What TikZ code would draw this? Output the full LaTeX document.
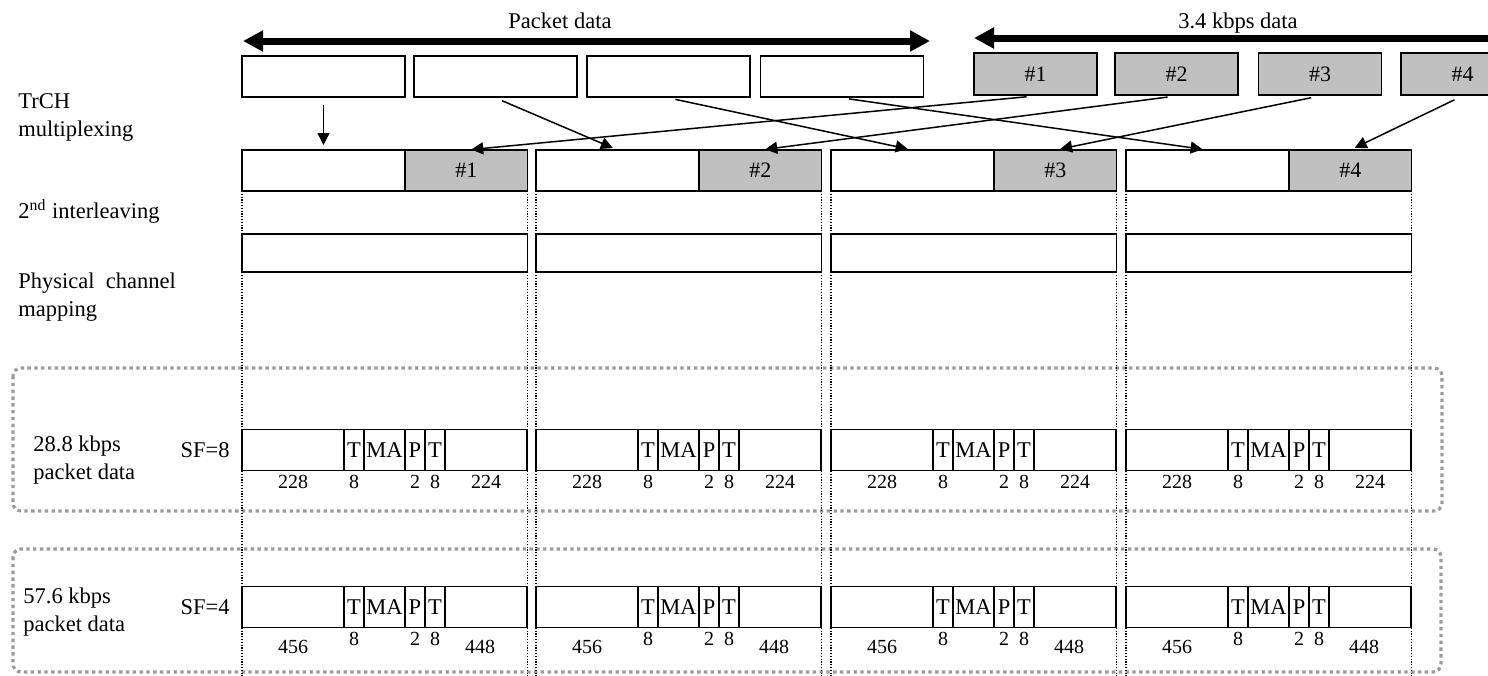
\documentclass[tikz,border=0pt]{standalone}
\usepackage{fontspec}
\setmainfont{Liberation Serif}
\usetikzlibrary{arrows.meta,positioning}
\definecolor{trShade}{RGB}{192,192,192}
\definecolor{frameGray}{RGB}{155,155,155}
\newcommand{\labsize}{\fontsize{11.25pt}{14pt}\selectfont}
\newcommand{\numsize}{\fontsize{10pt}{12pt}\selectfont}
\newcommand{\tagsize}{\fontsize{11pt}{13pt}\selectfont}
\tikzset{muxpanel/.style={
  x=0.5pt, y=-0.5pt,
  font=\labsize,
  blk/.style={draw, line width=0.9pt, inner sep=0pt, minimum width=81.5pt, minimum height=20.5pt},
  trblk/.style={blk, fill=trShade, font=\tagsize, minimum width=61.5pt, minimum height=21pt},
  seg/.style={draw, line width=0.75pt, inner sep=0pt, outer sep=0pt, minimum height=20.5pt},
  segfill/.style={seg, fill=trShade, font=\tagsize},
  num/.style={font=\numsize, inner sep=2pt},
  rowlab/.style={anchor=west, align=left, inner sep=0pt},
  bigtip/.tip={Triangle[length=10pt,width=10pt]},
  span/.style={line width=3.5pt},
  flow/.style={-{Triangle[length=6pt,width=6pt]}, line width=0.75pt, shorten >=2.5pt},
  guide/.style={line width=0.6pt, dash pattern=on 0.6pt off 0.8pt},
  frame/.style={draw=frameGray, line width=1.6pt, dash pattern=on 1.7pt off 1.7pt, rounded corners=4pt},
}}

\begin{document}
\begin{tikzpicture}[muxpanel]
\useasboundingbox (0,0) rectangle (1488,675);
\clip (0,0) rectangle (1488,675);

% dotted frames round the two packet data rates
\draw[frame] (13,368) rectangle (1442,511);
\draw[frame] (13,549) rectangle (1441,672);

% row labels
\node[rowlab] (lmux) at (18,117) {TrCH\\multiplexing};
\node[rowlab, anchor=base west] (lint) at (18,218) {2\textsuperscript{nd} interleaving};
\node[rowlab] (lphy) at (18,297) {Physical\ \ channel\\mapping};
\node[rowlab] (l288) at (33,460) {28.8 kbps\\packet data};
\node[rowlab] (l576) at (23,612) {57.6 kbps\\packet data};

% top: spans of the two transport channels
\coordinate (pktL) at (243,41);
\coordinate (pktR) at (930,41);
\draw[span, bigtip-bigtip] (pktL) -- (pktR);
\node[anchor=base] (pktlab) at (560,28) {Packet data};
\coordinate (lowL) at (974,38);
\coordinate (lowR) at (1500,38);
\draw[span, bigtip-] (lowL) -- (lowR);
\node[anchor=base] (lowlab) at (1238,28) {3.4 kbps data};

\foreach \i/\x in {1/323.5,2/495.5,3/668.5,4/842}
  \node[blk] (p\i) at (\x,76.5) {};
\foreach \i/\x in {1/1035.5,2/1176.5,3/1320,4/1462.5}
  \node[trblk] (t\i) at (\x,74) {\#\i};

% multiplexed frames, 2nd interleaving, guides
\foreach \i/\x in {1/242,2/536,3/831,4/1126}{
  \node[seg, minimum width=81.5pt, anchor=west] (mw\i) at (\x,170.5) {};
  \node[segfill, minimum width=61.25pt, right=0pt of mw\i] (mg\i) {\#\i};
  \node[seg, minimum width=142.75pt, minimum height=19pt, anchor=west] (il\i) at (\x,253) {};
  \draw[guide] (mw\i.south west) -- ++(0,490);
  \draw[guide] (mg\i.south east) -- ++(0,490);
  \draw[flow, shorten <=3.5pt] (p\i.south) -- (mw\i.north);
  \draw[flow, shorten <=4.5pt] (t\i.south) -- (mg\i.north);
}

% slot layouts for SF=8 and SF=4
\foreach \r/\y/\na/\nf/\lo/\sh in {8/450/228/224/0pt/0pt,4/607/456/448/4pt/-3pt}{
  \foreach \i/\x in {1/242,2/536,3/831,4/1126}{
    \node[seg, minimum width=51pt, anchor=west] (a\r\i) at (\x,\y) {};
    \node[seg, minimum width=10pt, right=0pt of a\r\i] (b\r\i) {T};
    \node[seg, minimum width=20.5pt, right=0pt of b\r\i] (c\r\i) {MA};
    \node[seg, minimum width=10pt, right=0pt of c\r\i] (d\r\i) {P};
    \node[seg, minimum width=10pt, right=0pt of d\r\i] (e\r\i) {T};
    \node[seg, minimum width=41pt, right=0pt of e\r\i] (f\r\i) {};
    \node[num, below=\lo of a\r\i] (na\r\i) {\na};
    \node[num, below=0pt of b\r\i] (nb\r\i) {8};
    \node[num, below=0pt of d\r\i] (nd\r\i) {2};
    \node[num, below=0pt of e\r\i] (ne\r\i) {8};
    \node[num, below=\lo of f\r\i, xshift=\sh] (nf\r\i) {\nf};
  }
  \node[inner sep=0pt, left=6pt of a\r1] (sf\r) {SF=\r};
}
\end{tikzpicture}
\end{document}
